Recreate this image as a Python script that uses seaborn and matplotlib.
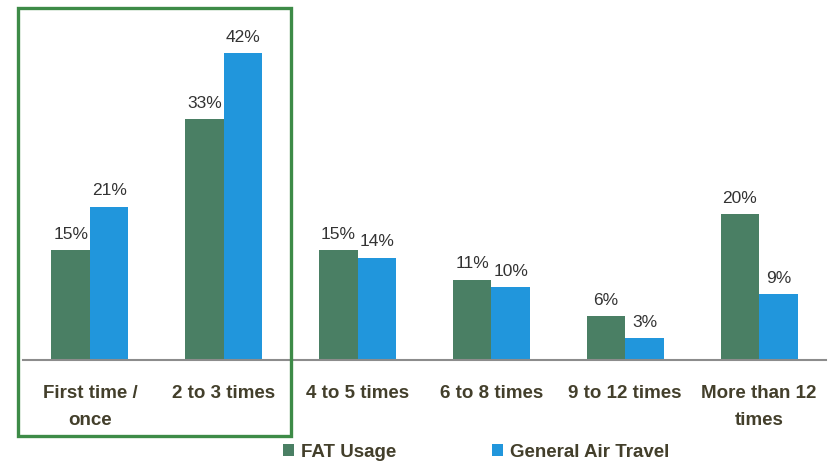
import matplotlib
matplotlib.use("Agg")
import matplotlib.pyplot as plt
import pandas as pd
import seaborn as sns
from matplotlib.patches import Rectangle

categories = ["First time /\nonce", "2 to 3 times", "4 to 5 times",
              "6 to 8 times", "9 to 12 times", "More than 12\ntimes"]
fat_usage = [15, 33, 15, 11, 6, 20]
general_air = [21, 42, 14, 10, 3, 9]
series = ["FAT Usage", "General Air Travel"]

rows = []
for cat, a, b in zip(categories, fat_usage, general_air):
    rows.append({"cat": cat, "series": series[0], "value": a})
    rows.append({"cat": cat, "series": series[1], "value": b})
df = pd.DataFrame(rows)

sns.set_theme(style="white")
label_font = ["Liberation Sans", "DejaVu Sans"]
text_col = "#433f2b"

fig = plt.figure(figsize=(8.39, 4.61), dpi=100)
ax = fig.add_axes([23 / 839, 1 - 360 / 461, 803 / 839, 360 / 461])

sns.barplot(data=df, x="cat", y="value", hue="series", order=categories,
            hue_order=series, palette=["#4a7f64", "#2196dc"], width=0.575,
            saturation=1, linewidth=0, ax=ax, legend=True)

for cont in ax.containers:
    ax.bar_label(cont, fmt="{:.0f}%", padding=6, fontsize=12.5,
                 color="#333333", family=["Liberation Sans", "DejaVu Sans"])

ax.set_ylim(0, 49.3)
ax.set_xlim(-0.5, len(categories) - 0.5)
ax.set_xlabel("")
ax.set_ylabel("")
ax.set_yticks([])
for s in ["top", "right", "left"]:
    ax.spines[s].set_visible(False)
ax.spines["bottom"].set_color("#8c8c8c")
ax.spines["bottom"].set_linewidth(1.5)

ax.set_xticks(range(len(categories)))
ax.set_xticklabels(categories, fontsize=13.5, fontweight="bold",
                   color=text_col, family=label_font, linespacing=1.75)
ax.tick_params(axis="x", which="major", length=0, pad=18)
ax.set_xticks([i - 0.5 for i in range(len(categories) + 1)], minor=True)
ax.tick_params(axis="x", which="minor", length=5, width=1.5,
               color="#8c8c8c", direction="out")

handles, labels = ax.get_legend_handles_labels()
ax.get_legend().remove()
fig.legend(handles, labels, loc="center", bbox_to_anchor=(476 / 839, 1 - 452 / 461),
           ncol=2, frameon=False, handlelength=0.6, handleheight=0.6,
           handletextpad=0.35, columnspacing=5.1,
           prop={"family": label_font, "weight": "bold", "size": 13.5},
           labelcolor=text_col)

fig.patches.append(Rectangle((18 / 839, 1 - 436 / 461), 273 / 839, 428 / 461,
                             transform=fig.transFigure, fill=False,
                             edgecolor="#3d8b47", linewidth=2.4))

plt.savefig("out.png", dpi=100)
